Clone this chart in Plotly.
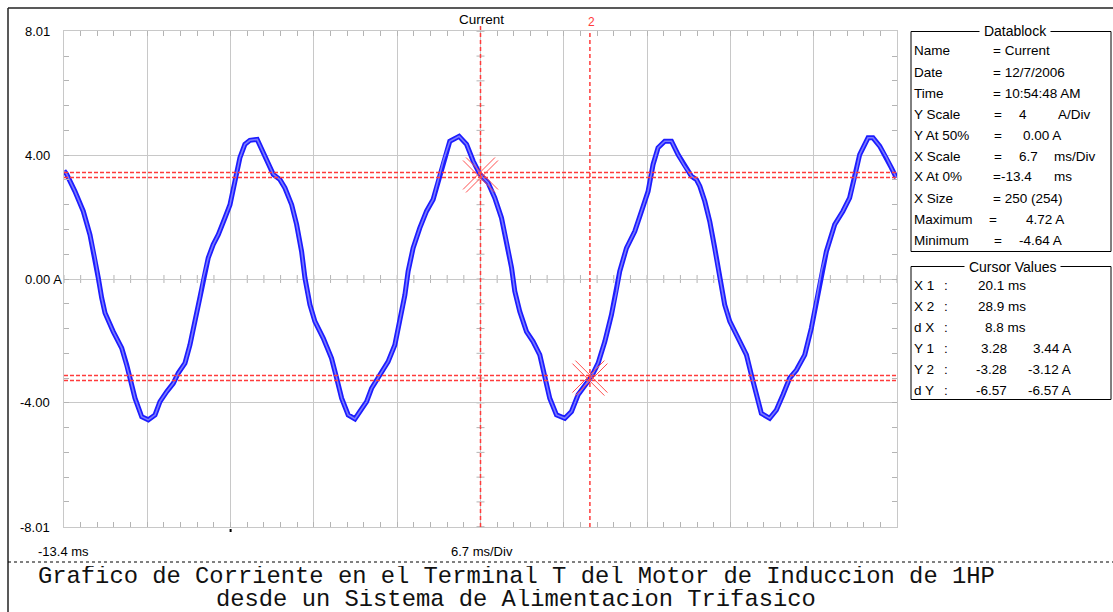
import plotly.graph_objects as go

# ---------------- data ----------------
time_ms = [-13.40, -13.18, -12.52, -11.85, -11.31, -10.91, -10.64, -10.37, -10.10, -9.44,
           -8.76, -8.36, -8.09, -7.69, -7.15, -6.62, -6.08, -5.68, -5.14, -4.61,
           -4.21, -3.67, -3.27, -2.87, -2.47, -2.20, -1.80, -1.40, -0.99, -0.46,
           -0.05, 0.35, 0.75, 1.15, 1.55, 2.14, 2.50, 3.03, 3.43, 3.97,
           4.37, 4.91, 5.31, 5.71, 5.98, 6.38, 6.78, 7.45, 8.12, 8.53,
           8.93, 9.46, 10.00, 10.40, 10.94, 11.34, 12.01, 12.67, 13.21, 13.61,
           14.02, 14.28, 14.68, 15.22, 15.76, 16.29, 16.69, 17.10, 17.63, 18.38,
           18.98, 19.51, 20.05, 20.71, 21.25, 21.79, 22.19, 22.60, 22.86, 23.26,
           23.80, 24.33, 24.87, 25.27, 25.67, 26.21, 26.88, 27.42, 27.95, 28.63,
           29.03, 29.56, 30.10, 30.63, 31.04, 31.30, 31.84, 32.51, 33.05, 33.58,
           33.98, 34.38, 34.92, 35.46, 35.99, 36.53, 37.07, 37.47, 37.74, 38.14,
           38.54, 38.94, 39.34, 39.74, 40.15, 40.81, 41.49, 41.89, 42.29, 42.69,
           43.36, 43.90, 44.43, 44.97, 45.51, 46.18, 46.71, 47.12, 47.52, 47.92,
           48.59, 49.25, 49.79, 50.20, 50.60, 51.27, 51.67, 52.21, 52.75, 53.15,
           53.55]
current_a = [3.50, 3.38, 2.83, 2.19, 1.43, 0.68, 0.03, -0.61, -1.10, -1.70,
             -2.23, -2.77, -3.20, -3.85, -4.45, -4.55, -4.39, -3.96, -3.64, -3.37,
             -3.04, -2.72, -2.13, -1.37, -0.61, 0.03, 0.68, 1.11, 1.43, 1.97,
             2.40, 3.16, 3.92, 4.35, 4.48, 4.51, 4.18, 3.70, 3.38, 3.21,
             2.94, 2.40, 1.76, 0.89, 0.03, -0.83, -1.37, -1.91, -2.56, -3.20,
             -3.85, -4.39, -4.52, -4.28, -3.96, -3.53, -3.10, -2.67, -2.13, -1.37,
             -0.51, 0.25, 1.00, 1.65, 2.19, 2.57, 3.16, 3.81, 4.45, 4.61,
             4.35, 3.81, 3.38, 3.11, 2.62, 1.97, 1.22, 0.36, -0.40, -1.05,
             -1.70, -2.02, -2.45, -3.20, -3.85, -4.39, -4.50, -4.28, -3.74, -3.37,
             -3.15, -2.72, -2.02, -1.16, -0.40, 0.25, 1.00, 1.54, 2.19, 2.83,
             3.70, 4.24, 4.45, 4.45, 4.02, 3.64, 3.32, 3.21, 3.00, 2.51,
             1.86, 1.00, 0.14, -0.83, -1.37, -1.91, -2.45, -3.10, -3.74, -4.34,
             -4.50, -4.23, -3.74, -3.20, -2.94, -2.45, -1.59, -0.72, 0.25, 0.89,
             1.76, 2.19, 2.62, 3.27, 4.02, 4.56, 4.56, 4.29, 3.92, 3.59,
             3.27]

x_start = -13.4          # ms (X At 0%)
x_div = 6.7              # ms/Div
y_limit = 8.01
y_div = 4.0
y_tick_labels = ["8.01", "4.00", "0.00 A", "-4.00", "-8.01"]
y_tick_values = [8.01, 4.0, 0.0, -4.0, -8.01]

cursor_x = [20.1, 28.9]
cursor1_y = [3.28, 3.44]
cursor2_y = [-3.28, -3.12]

trace_name = "Current"

datablock_labels = ["Name", "Date", "Time", "Y Scale", "Y At 50%", "X Scale",
                    "X At 0%", "X Size", "Maximum", "Minimum"]
datablock_values = [["= Current"], ["= 12/7/2006"], ["= 10:54:48 AM"],
                    ["=", "4", "A/Div"], ["=", "0.00 A"], ["=", "6.7", "ms/Div"],
                    ["=-13.4", "ms"], ["= 250 (254)"], ["=", "4.72 A"], ["=", "-4.64 A"]]

cursor_labels = ["X 1", "X 2", "d X", "Y 1", "Y 2", "d Y"]
cursor_x_values = ["20.1 ms", "28.9 ms", "8.8 ms"]
cursor_y_values1 = ["3.28", "-3.28", "-6.57"]
cursor_y_values2 = ["3.44 A", "-3.12 A", "-6.57 A"]

caption_lines = ["Grafico de Corriente en el Terminal T del Motor de Induccion de 1HP",
                 "desde un Sistema de Alimentacion Trifasico"]

# ---------------- layout helpers ----------------
FW, FH = 1113, 612
L, R, T, B = 64, 897, 31, 527
PW, PH = R - L, B - T


def px(x):
    return (x - L) / PW


def py(y):
    return (B - y) / PH


SANS = "Liberation Sans, Arial, sans-serif"
MONO = "Liberation Mono, Courier New, monospace"

fig = go.Figure()
fig.add_trace(go.Scatter(x=time_ms, y=current_a, mode="lines",
                         line=dict(color="#1c1cff", width=5),
                         hoverinfo="skip", showlegend=False))
fig.add_trace(go.Scatter(x=time_ms, y=current_a, mode="lines",
                         line=dict(color="#7a7aff", width=1.6),
                         hoverinfo="skip", showlegend=False))

shapes = []
annotations = []
TICK = "#b4b4b4"

# centre-line cross ticks
x_end = x_start + 10 * x_div
k = 0
while True:
    t = x_start + k * x_div / 5
    if t > x_end + 1e-9:
        break
    shapes.append(dict(type="line", xref="x", yref="y", x0=t, x1=t,
                       ysizemode="pixel", yanchor=0, y0=-4, y1=4,
                       line=dict(color=TICK, width=1), layer="below"))
    k += 1
x_center = x_start + 5 * x_div
k = -10
while k <= 10:
    v = k * y_div / 5
    if abs(v) < y_limit:
        shapes.append(dict(type="line", xref="x", yref="y", y0=v, y1=v,
                           xsizemode="pixel", xanchor=x_center, x0=-4, x1=4,
                           line=dict(color=TICK, width=1), layer="below"))
    k += 1

# cursors
RED = "#ff3b3b"
for cx in cursor_x:
    shapes.append(dict(type="line", xref="x", yref="paper", x0=cx, x1=cx,
                       y0=0, y1=py(24 if cx == cursor_x[0] else 30),
                       line=dict(color=RED, width=1.5, dash="4px,3px")))
for cy in cursor1_y + cursor2_y:
    shapes.append(dict(type="line", xref="paper", yref="y", x0=0, x1=1, y0=cy, y1=cy,
                       line=dict(color=RED, width=1.5, dash="4px,2px")))

# X markers at cursor crossings
for cx, cy in [(cursor_x[0], sum(cursor1_y) / 2), (cursor_x[1], sum(cursor2_y) / 2)]:
    for sgn in (1, -1):
        for off in (-1.5, 1.5):
            shapes.append(dict(type="line", xref="x", yref="y",
                               xsizemode="pixel", ysizemode="pixel",
                               xanchor=cx, yanchor=cy,
                               x0=-16 + off, x1=16 + off,
                               y0=sgn * (-16) - sgn * off, y1=sgn * 16 - sgn * off,
                               line=dict(color="#ff5050", width=1)))

# trigger mark
shapes.append(dict(type="line", xref="x", yref="paper", x0=0, x1=0,
                   y0=py(532), y1=py(529), line=dict(color="#000", width=2)))

# outer frame
shapes.append(dict(type="line", xref="paper", yref="paper", x0=px(8), x1=px(1113),
                   y0=py(8), y1=py(8), line=dict(color="#222", width=1.5)))
shapes.append(dict(type="line", xref="paper", yref="paper", x0=px(8), x1=px(8),
                   y0=py(8), y1=py(612), line=dict(color="#222", width=1.5)))
# caption separator
shapes.append(dict(type="line", xref="paper", yref="paper", x0=px(8), x1=px(1113),
                   y0=py(562), y1=py(562), line=dict(color="#000", width=1, dash="3px,3px")))

# boxes
shapes.append(dict(type="rect", xref="paper", yref="paper", x0=px(911), x1=px(1111),
                   y0=py(31.5), y1=py(251.5), line=dict(color="#000", width=1)))
shapes.append(dict(type="rect", xref="paper", yref="paper", x0=px(911), x1=px(1111),
                   y0=py(266.5), y1=py(399.5), line=dict(color="#000", width=1)))


def ann(text, x, y, anchor="left", size=13.5, color="#000", family=SANS, bg=None, height=None):
    d = dict(text=text, xref="paper", yref="paper", x=px(x), y=py(y),
             xanchor=anchor, yanchor="middle", showarrow=False, borderpad=0,
             font=dict(family=family, size=size, color=color))
    if bg:
        d["bgcolor"] = bg
    if height:
        d["height"] = height
    annotations.append(d)


# y tick labels
for lab, val in zip(y_tick_labels, y_tick_values):
    ypix = B - (val + y_limit) / (2 * y_limit) * PH
    if lab.endswith(" A"):
        ann(lab, 63, ypix, anchor="right", size=13)
    else:
        ann(lab, 51, ypix, anchor="right", size=13)

ann("-13.4 ms", 37, 551, size=13)
ann(f"{x_div} ms/Div", 482, 551, anchor="center", size=13)
ann(trace_name, 481, 19, anchor="center", size=13.5)
ann("2", 591, 22, anchor="center", size=12, color=RED)

# datablock
ann("\u00a0Datablock\u00a0", 1015, 31.5, anchor="center", size=14, bg="white")
value_x = [[992], [992], [992], [993, 1018, 1057], [993, 1022], [993, 1018, 1053],
           [992, 1053], [992], [988, 1025], [993, 1018]]
for i, (lab, parts) in enumerate(zip(datablock_labels, datablock_values)):
    yy = 51 + 21 * i
    ann(lab, 913, yy)
    for xx, p in zip(value_x[i], parts):
        ann(p, xx, yy)

# cursor values
ann("\u00a0Cursor Values\u00a0", 1012, 266.5, anchor="center", size=14, bg="white")
for i, lab in enumerate(cursor_labels):
    yy = 285 + 21 * i
    ann(lab, 913, yy)
    ann(":", 943, yy)
for i, v in enumerate(cursor_x_values):
    ann(v, 1027, 285 + 21 * i, anchor="right")
for i, (v1, v2) in enumerate(zip(cursor_y_values1, cursor_y_values2)):
    ann(v1, 1008, 348 + 21 * i, anchor="right")
    ann(v2, 1072, 348 + 21 * i, anchor="right")

# caption
ann(caption_lines[0], 516, 576, anchor="center", size=23.8, family=MONO, color="#111", height=20)
ann(caption_lines[1], 516, 599, anchor="center", size=23.8, family=MONO, color="#111", height=20)

GRID = "#c8c8c8"
fig.update_layout(
    width=FW, height=FH, autosize=False,
    margin=dict(l=L, r=FW - R, t=T, b=FH - B, pad=0),
    paper_bgcolor="white", plot_bgcolor="white",
    showlegend=False,
    xaxis=dict(range=[x_start, x_end], tickmode="linear", tick0=x_start, dtick=x_div,
               showgrid=True, gridcolor=GRID, gridwidth=1, zeroline=False,
               showticklabels=False, ticks="inside", ticklen=5, tickcolor=TICK,
               showline=True, linecolor=GRID, linewidth=1, mirror="ticks",
               minor=dict(tickmode="linear", tick0=x_start, dtick=x_div / 5,
                          ticks="inside", ticklen=5, tickcolor=TICK, showgrid=False)),
    yaxis=dict(range=[-y_limit, y_limit], tickmode="array", tickvals=[-y_div, 0, y_div],
               showgrid=True, gridcolor=GRID, gridwidth=1, zeroline=False,
               showticklabels=False, ticks="inside", ticklen=5, tickcolor=TICK,
               showline=True, linecolor=GRID, linewidth=1, mirror="ticks",
               minor=dict(tickmode="linear", tick0=0, dtick=y_div / 5,
                          ticks="inside", ticklen=5, tickcolor=TICK, showgrid=False)),
    shapes=shapes,
    annotations=annotations,
)

fig.write_html("out.html", config={"displayModeBar": False})
